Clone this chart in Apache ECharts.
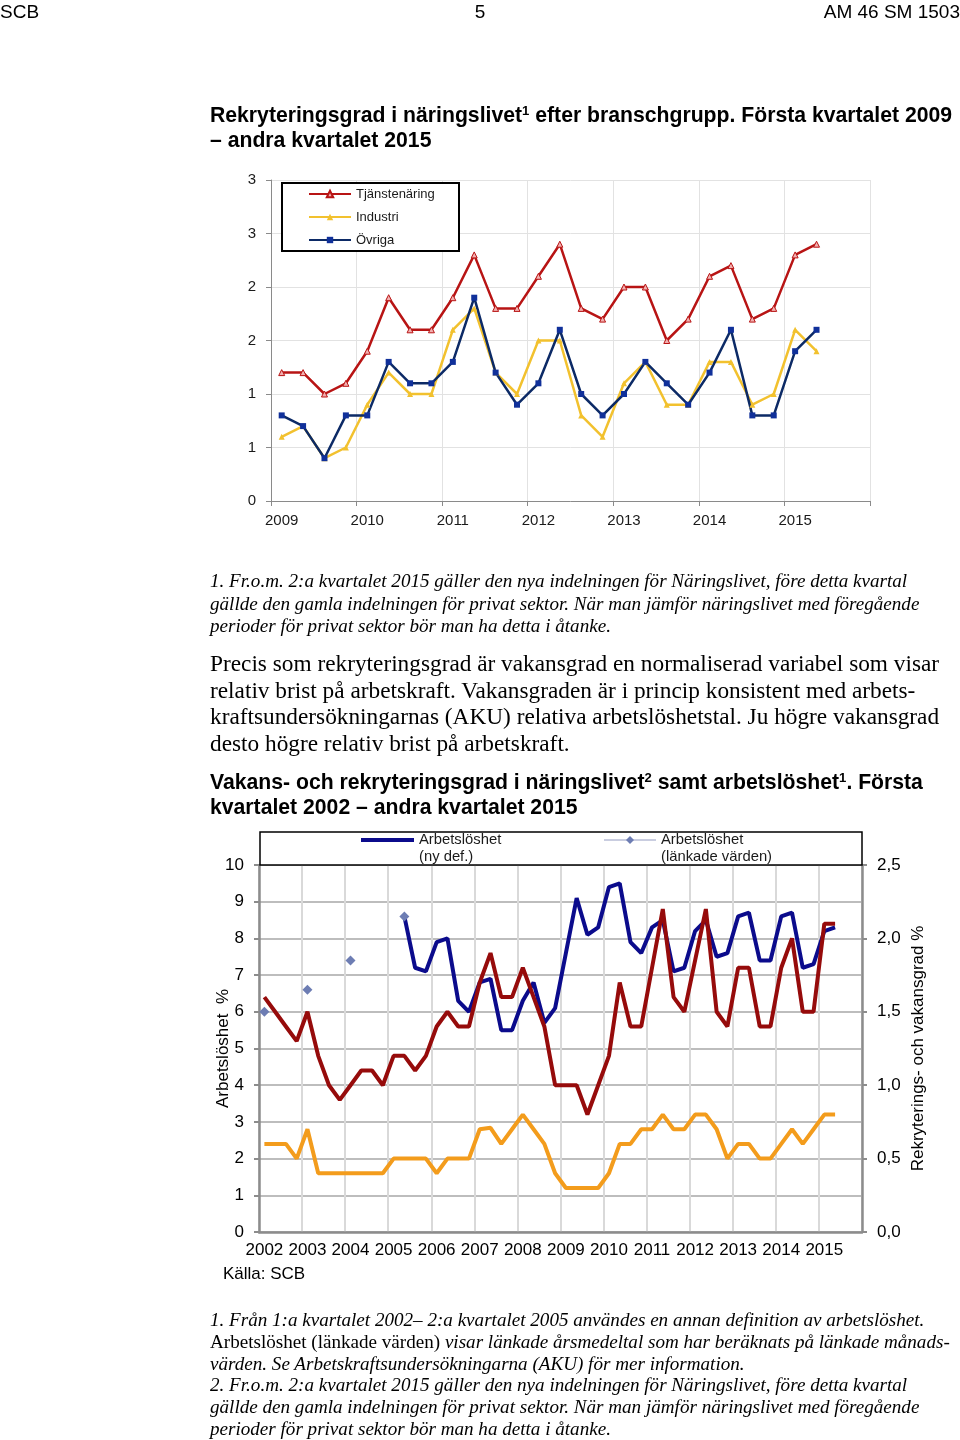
<!DOCTYPE html>
<html><head><meta charset="utf-8">
<script src="https://cdn.jsdelivr.net/npm/echarts@6/dist/echarts.min.js"></script>
<style>
html,body{margin:0;padding:0;background:#fff;}
#page{position:relative;width:960px;height:1440px;overflow:hidden;background:#fff;}
#chart{position:absolute;left:0;top:0;width:960px;height:1440px;}
.t{position:absolute;white-space:nowrap;color:#000;}
.sans{font-family:"Liberation Sans",Arial,sans-serif;}
.serif{font-family:"Liberation Serif","Times New Roman",serif;}
.b{font-weight:bold;}
.i{font-style:italic;}
.n{font-style:normal;}
sup{font-size:0.62em;vertical-align:0.55em;line-height:0;}
.h{font-size:19px;line-height:24px;top:0;}
.ti{font-size:21.2px;line-height:25px;left:210px;}
.fn{font-size:19.1px;line-height:22px;left:210px;}
.p{font-size:23.3px;line-height:26px;left:210px;}
</style></head>
<body><div id="page">
<div id="chart"></div>

<div class="t sans h" style="left:0">SCB</div>
<div class="t sans h" style="left:0;width:960px;text-align:center">5</div>
<div class="t sans h" style="right:0">AM 46 SM 1503</div>

<div class="t sans b ti" style="top:101.5px">Rekryteringsgrad i näringslivet<sup>1</sup> efter branschgrupp. Första kvartalet 2009</div>
<div class="t sans b ti" style="top:126.5px">– andra kvartalet 2015</div>

<div class="t serif i fn" style="top:570px">1. Fr.o.m. 2:a kvartalet 2015 gäller den nya indelningen för Näringslivet, före detta kvartal</div>
<div class="t serif i fn" style="top:592.5px">gällde den gamla indelningen för privat sektor. När man jämför näringslivet med föregående</div>
<div class="t serif i fn" style="top:615px">perioder för privat sektor bör man ha detta i åtanke.</div>

<div class="t serif p" style="top:650px">Precis som rekryteringsgrad är vakansgrad en normaliserad variabel som visar</div>
<div class="t serif p" style="top:677px">relativ brist på arbetskraft. Vakansgraden är i princip konsistent med arbets-</div>
<div class="t serif p" style="top:703px">kraftsundersökningarnas (AKU) relativa arbetslöshetstal. Ju högre vakansgrad</div>
<div class="t serif p" style="top:730px">desto högre relativ brist på arbetskraft.</div>

<div class="t sans b ti" style="top:768.5px">Vakans- och rekryteringsgrad i näringslivet<sup>2</sup> samt arbetslöshet<sup>1</sup>. Första</div>
<div class="t sans b ti" style="top:793.5px">kvartalet 2002 – andra kvartalet 2015</div>

<div class="t sans" style="left:223px;top:1264px;font-size:17px;line-height:20px">Källa: SCB</div>

<div class="t serif i fn" style="top:1309px">1. Från 1:a kvartalet 2002– 2:a kvartalet 2005 användes en annan definition av arbetslöshet.</div>
<div class="t serif i fn" style="top:1331px"><span class="n">Arbetslöshet (länkade värden)</span> visar länkade årsmedeltal som har beräknats på länkade månads-</div>
<div class="t serif i fn" style="top:1352.5px">värden. Se Arbetskraftsundersökningarna (AKU) för mer information.</div>
<div class="t serif i fn" style="top:1374px">2. Fr.o.m. 2:a kvartalet 2015 gäller den nya indelningen för Näringslivet, före detta kvartal</div>
<div class="t serif i fn" style="top:1396px">gällde den gamla indelningen för privat sektor. När man jämför näringslivet med föregående</div>
<div class="t serif i fn" style="top:1418px">perioder för privat sektor bör man ha detta i åtanke.</div>
</div>
<script>
// ---------- data ----------
const quarters = ['K1', 'K2', 'K3', 'K4'];
const years1 = ['2009', '2010', '2011', '2012', '2013', '2014', '2015'];
const years2 = ['2002', '2003', '2004', '2005', '2006', '2007', '2008', '2009', '2010', '2011', '2012', '2013', '2014', '2015'];

// Chart 1: rekryteringsgrad per branschgrupp, 2009 K1 – 2015 K2
const tjanstenaring = [1.2, 1.2, 1.0, 1.1, 1.4, 1.9, 1.6, 1.6, 1.9, 2.3, 1.8, 1.8, 2.1, 2.4, 1.8, 1.7, 2.0, 2.0, 1.5, 1.7, 2.1, 2.2, 1.7, 1.8, 2.3, 2.4];
const industri = [0.6, 0.7, 0.4, 0.5, 0.9, 1.2, 1.0, 1.0, 1.6, 1.8, 1.2, 1.0, 1.5, 1.5, 0.8, 0.6, 1.1, 1.3, 0.9, 0.9, 1.3, 1.3, 0.9, 1.0, 1.6, 1.4];
const ovriga = [0.8, 0.7, 0.4, 0.8, 0.8, 1.3, 1.1, 1.1, 1.3, 1.9, 1.2, 0.9, 1.1, 1.6, 1.0, 0.8, 1.0, 1.3, 1.1, 0.9, 1.2, 1.6, 0.8, 0.8, 1.4, 1.6];
const yTicks1 = [0, 0.5, 1, 1.5, 2, 2.5, 3];

// Chart 2: 2002 K1 – 2015 K2
const rekryteringsgrad = [1.6, 1.5, 1.4, 1.3, 1.5, 1.2, 1.0, 0.9, 1.0, 1.1, 1.1, 1.0, 1.2, 1.2, 1.1, 1.2, 1.4, 1.5, 1.4, 1.4, 1.7, 1.9, 1.6, 1.6, 1.8, 1.6, 1.4, 1.0, 1.0, 1.0, 0.8, 1.0, 1.2, 1.7, 1.4, 1.4, 1.8, 2.2, 1.6, 1.5, 1.85, 2.2, 1.5, 1.4, 1.8, 1.8, 1.4, 1.4, 1.8, 2.0, 1.5, 1.5, 2.1, 2.1];
const vakansgrad = [0.6, 0.6, 0.6, 0.5, 0.7, 0.4, 0.4, 0.4, 0.4, 0.4, 0.4, 0.4, 0.5, 0.5, 0.5, 0.5, 0.4, 0.5, 0.5, 0.5, 0.7, 0.71, 0.6, 0.7, 0.8, 0.7, 0.6, 0.4, 0.3, 0.3, 0.3, 0.3, 0.4, 0.6, 0.6, 0.7, 0.7, 0.8, 0.7, 0.7, 0.8, 0.8, 0.7, 0.5, 0.6, 0.6, 0.5, 0.5, 0.6, 0.7, 0.6, 0.7, 0.8, 0.8];
const arbetsloshetNyStart = '2005 K2';
const arbetsloshetNy = [8.6, 7.2, 7.1, 7.9, 8.0, 6.3, 6.0, 6.8, 6.9, 5.5, 5.5, 6.3, 6.8, 5.7, 6.1, 7.6, 9.1, 8.1, 8.3, 9.4, 9.5, 7.9, 7.6, 8.3, 8.5, 7.1, 7.2, 8.2, 8.5, 7.5, 7.6, 8.6, 8.7, 7.4, 7.4, 8.6, 8.7, 7.2, 7.3, 8.2, 8.3];
const lankadeKvartal = ['2002 K1', '2003 K1', '2004 K1', '2005 K2'];
const arbetsloshetLankade = [6.0, 6.6, 7.4, 8.6];

// ---------- build ----------
const cats1 = years1.flatMap(y => quarters.map(q => y + ' ' + q));
const cats2 = years2.flatMap(y => quarters.map(q => y + ' ' + q));
const nyStart = cats2.indexOf(arbetsloshetNyStart);
const nyData = cats2.map((c, i) => (i >= nyStart && i - nyStart < arbetsloshetNy.length) ? arbetsloshetNy[i - nyStart] : '-');
const lankData = cats2.map(c => { const k = lankadeKvartal.indexOf(c); return k >= 0 ? arbetsloshetLankade[k] : '-'; });

const SANS = '"Liberation Sans", Arial, sans-serif';
const AX = '#8a8a8a';

const chart = echarts.init(document.getElementById('chart'), null, {renderer: 'canvas'});
chart.setOption({
  animation: false,
  backgroundColor: 'transparent',
  textStyle: {fontFamily: SANS},
  grid: [
    {left: 271, top: 180, width: 599, height: 321},
    {left: 259, top: 865, width: 603, height: 367}
  ],
  xAxis: [
    {gridIndex: 0, type: 'category', data: cats1, boundaryGap: true,
      axisLine: {lineStyle: {color: AX, width: 1}},
      axisTick: {show: true, interval: 3, length: 5, lineStyle: {color: AX, width: 1}},
      axisLabel: {interval: 3, hideOverlap: false, formatter: v => v.slice(0, 4), color: '#1a1a1a', fontSize: 15, fontFamily: SANS, margin: 12},
      splitLine: {show: true, interval: 3, lineStyle: {color: '#e2e2e2', width: 1}}},
    {gridIndex: 1, type: 'category', data: cats2, boundaryGap: true,
      axisLine: {lineStyle: {color: '#8c8c8c', width: 2.5}},
      axisTick: {show: false},
      axisLabel: {interval: 3, hideOverlap: false, formatter: v => v.slice(0, 4), color: '#000', fontSize: 17, fontFamily: SANS, margin: 10},
      splitLine: {show: true, interval: 3, lineStyle: {color: '#d9d9d9', width: 2}}}
  ],
  yAxis: [
    {gridIndex: 0, type: 'value', min: yTicks1[0], max: yTicks1[yTicks1.length - 1], interval: 0.5,
      axisLine: {show: true, lineStyle: {color: AX, width: 1}},
      axisTick: {show: true, length: 5, lineStyle: {color: AX}},
      axisLabel: {formatter: v => String(Math.round(v)), color: '#1a1a1a', fontSize: 15, fontFamily: SANS, margin: 15},
      splitLine: {show: true, lineStyle: {color: '#e2e2e2', width: 1}}},
    {gridIndex: 1, type: 'value', min: 0, max: 10, interval: 1, position: 'left',
      name: 'Arbetslöshet  %', nameLocation: 'middle', nameGap: 27, nameRotate: 90, nameMoveOverlap: false,
      nameTextStyle: {fontSize: 17, color: '#000', fontFamily: SANS},
      axisLine: {show: true, lineStyle: {color: '#8c8c8c', width: 2.5}},
      axisTick: {show: true, length: 5, lineStyle: {color: '#8c8c8c', width: 2}},
      axisLabel: {color: '#000', fontSize: 17, fontFamily: SANS, margin: 15},
      splitLine: {show: true, lineStyle: {color: '#bdbdbd', width: 2}}},
    {gridIndex: 1, type: 'value', min: 0, max: 2.5, interval: 0.5, position: 'right',
      name: 'Rekryterings- och vakansgrad %', nameLocation: 'middle', nameGap: 48, nameRotate: 90, nameMoveOverlap: false,
      nameTextStyle: {fontSize: 17, color: '#000', fontFamily: SANS},
      axisLine: {show: true, lineStyle: {color: '#8c8c8c', width: 2.5}},
      axisTick: {show: true, length: 5, lineStyle: {color: '#8c8c8c', width: 2}},
      axisLabel: {formatter: v => v.toFixed(1).replace('.', ','), color: '#000', fontSize: 17, fontFamily: SANS, margin: 15},
      splitLine: {show: false}}
  ],
  legend: [
    {orient: 'vertical', left: 308, top: 187, padding: 0, itemWidth: 42, itemHeight: 8, itemGap: 9,
      selectedMode: false, z: 10,
      data: ['Tjänstenäring', 'Industri', 'Övriga'],
      textStyle: {fontSize: 13, lineHeight: 14, color: '#1a1a1a', fontFamily: SANS}},
    {left: 361, top: 814.5, padding: 0, itemWidth: 53, itemHeight: 4, selectedMode: false, z: 10,
      data: [{name: 'Arbetslöshet (ny def.)', icon: 'rect'}],
      formatter: () => ' \nArbetslöshet\n(ny def.)',
      textStyle: {fontSize: 14.8, lineHeight: 17, color: '#1a1a1a', fontFamily: SANS}},
    {left: 603, top: 814.5, padding: 0, itemWidth: 52, itemHeight: 10, selectedMode: false, z: 10,
      data: ['Arbetslöshet (länkade värden)'],
      formatter: () => ' \nArbetslöshet\n(länkade värden)',
      textStyle: {fontSize: 14.8, lineHeight: 17, color: '#1a1a1a', fontFamily: SANS}}
  ],
  graphic: [
    {type: 'rect', z: 5, shape: {x: 282, y: 183, width: 177, height: 68}, style: {fill: '#fff', stroke: '#000', lineWidth: 2}},
    {type: 'rect', z: 5, shape: {x: 260, y: 832, width: 602, height: 33}, style: {fill: '#fff', stroke: '#000', lineWidth: 1.5}}
  ],
  series: [
    {name: 'Tjänstenäring', type: 'line', xAxisIndex: 0, yAxisIndex: 0, data: tjanstenaring,
      symbol: 'triangle', symbolSize: 6, itemStyle: {color: '#f2b0b0', borderColor: '#b81414', borderWidth: 1},
      lineStyle: {color: '#b81414', width: 2.5}},
    {name: 'Industri', type: 'line', xAxisIndex: 0, yAxisIndex: 0, data: industri,
      symbol: 'triangle', symbolSize: 6, itemStyle: {color: '#f2c12e'},
      lineStyle: {color: '#f2c12e', width: 2.5}},
    {name: 'Övriga', type: 'line', xAxisIndex: 0, yAxisIndex: 0, data: ovriga,
      symbol: 'rect', symbolSize: 6, itemStyle: {color: '#10309a'},
      lineStyle: {color: '#0c2a66', width: 2.5}},
    {name: 'Arbetslöshet (ny def.)', type: 'line', xAxisIndex: 1, yAxisIndex: 1, data: nyData,
      symbol: 'none', connectNulls: false, itemStyle: {color: '#0b0b8c'},
      lineStyle: {color: '#0b0b8c', width: 4}},
    {name: 'Arbetslöshet (länkade värden)', type: 'line', xAxisIndex: 1, yAxisIndex: 1, data: lankData,
      symbol: 'diamond', symbolSize: 10, connectNulls: false, showAllSymbol: true, itemStyle: {color: '#6d7db3'},
      lineStyle: {color: '#c9cde0', width: 1}},
    {name: 'Rekryteringsgrad', type: 'line', xAxisIndex: 1, yAxisIndex: 2, data: rekryteringsgrad,
      symbol: 'none', itemStyle: {color: '#960b0b'}, lineStyle: {color: '#960b0b', width: 4}},
    {name: 'Vakansgrad', type: 'line', xAxisIndex: 1, yAxisIndex: 2, data: vakansgrad,
      symbol: 'none', itemStyle: {color: '#f39c1c'}, lineStyle: {color: '#f39c1c', width: 4}}
  ]
});
</script>
</body></html>
